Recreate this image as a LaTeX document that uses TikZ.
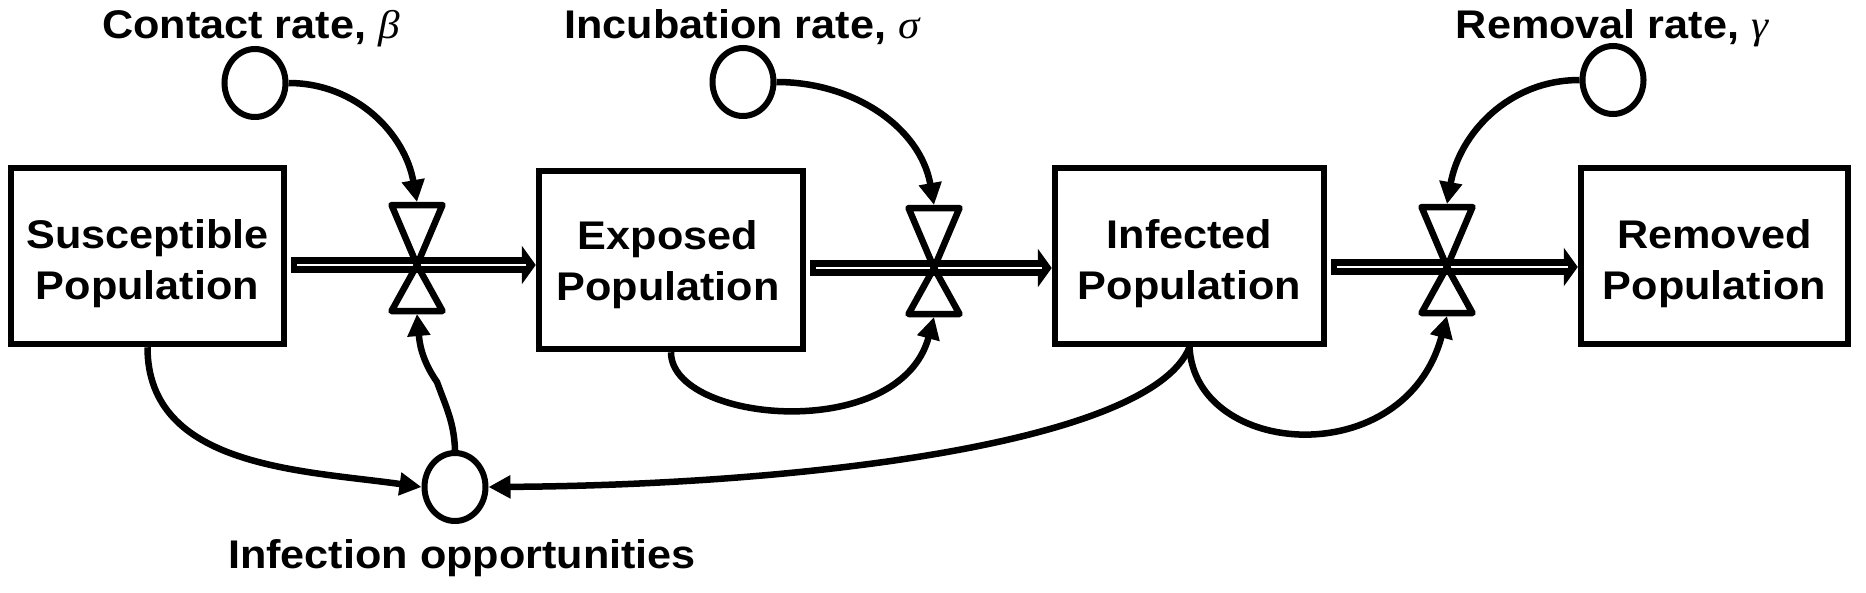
\documentclass[tikz,border=0pt]{standalone}
\usepackage{fontspec}
\usepackage{graphicx}
\setmainfont{Liberation Sans}
\newfontfamily\gkfont{Liberation Serif}
\usetikzlibrary{arrows.meta,calc,shapes.geometric}
\newcommand{\wx}[1]{\scalebox{1.08}[1]{#1}}
\newcommand{\gk}[1]{{\gkfont\itshape\mdseries #1}}

\begin{document}
\begin{tikzpicture}[x=1pt,y=1pt,
  box/.style={draw, line width=6.5pt, rectangle, inner sep=0pt},
  boxtext/.style={inner sep=0pt, align=center, font=\fontsize{40}{51}\selectfont\bfseries},
  aux/.style={draw, line width=6pt, ellipse, minimum width=61pt, minimum height=68pt, inner sep=0pt},
  lbl/.style={font=\fontsize{40}{48}\selectfont\bfseries, inner sep=0pt, anchor=base},
  link/.style={line width=6.5pt, -{Triangle[length=22pt,width=22pt]}},
  valvestyle/.style={line width=6.5pt, line join=round},
  flowline/.style={line width=16pt, -{Triangle[length=14pt,width=38pt]}},
  flowgap/.style={line width=2.5pt, white},
]
\useasboundingbox (0,0) rectangle (1866,-592);

% stocks
\node[box, minimum width=273pt, minimum height=176pt] (S) at (147.5,-256) {};
\node[box, minimum width=264pt, minimum height=178pt] (E) at (671,-260) {};
\node[box, minimum width=269pt, minimum height=176pt] (I) at (1189.5,-256) {};
\node[box, minimum width=267pt, minimum height=176pt] (R) at (1714.5,-256) {};
\node[boxtext] (St) at ($(S.center)+(0,-8)$) {\wx{Susceptible}\\\wx{Population}};
\node[boxtext] (Et) at ($(E.center)+(-3,-5)$) {\wx{Exposed}\\\wx{Population}};
\node[boxtext] (It) at ($(I.center)+(0,-8)$) {\wx{Infected}\\\wx{Population}};
\node[boxtext] (Rt) at ($(R.center)+(0,-8)$) {\wx{Removed}\\\wx{Population}};

% auxiliaries
\node[aux] (beta) at (255,-83) {};
\node[aux] (sigma) at (743,-82) {};
\node[aux] (gamma) at (1613,-80) {};
\node[aux] (io) at (455,-487) {};

% labels
\node[lbl] (tbeta) at (251,-38) {\wx{Contact rate, \gk{β}}};
\node[lbl] (tsigma) at (742,-38) {\wx{Incubation rate, \gk{σ}}};
\node[lbl] (tgamma) at (1612,-38) {\wx{Removal rate, \gk{γ}}};
\node[lbl] (tio) at (462,-568) {\wx{Infection opportunities}};

% valve centres
\coordinate (v1) at (417,-265);
\coordinate (v2) at (934,-268);
\coordinate (v3) at (1447,-267);
\foreach \v in {v1,v2,v3}{
  \coordinate (\v t) at ($(\v)+(0,63)$);
  \coordinate (\v b) at ($(\v)+(0,-49)$);
}

% flows
\draw[flowline] ($(v1 -| S.east)+(4,0)$) -- (v1 -| E.west);
\draw[flowgap] ($(v1 -| S.east)+(10,0)$) -- ($(v1 -| E.west)+(-10,0)$);
\draw[flowline] ($(v2 -| E.east)+(4,0)$) -- (v2 -| I.west);
\draw[flowgap] ($(v2 -| E.east)+(10,0)$) -- ($(v2 -| I.west)+(-10,0)$);
\draw[flowline] ($(v3 -| I.east)+(4,0)$) -- (v3 -| R.west);
\draw[flowgap] ($(v3 -| I.east)+(10,0)$) -- ($(v3 -| R.west)+(-10,0)$);

% valves
\foreach \v in {v1,v2,v3}{
  \draw[valvestyle] ($(\v)+(-25.5,60)$) -- ($(\v)+(25.5,60)$) -- (\v) -- cycle;
  \draw[valvestyle] (\v) -- ($(\v)+(-25.5,-46)$) -- ($(\v)+(25.5,-46)$) -- cycle;
}

% links
\coordinate (k1) at (437,-382);
\draw[link] (beta.east) to[out=0,in=100] (v1t);
\draw[link] (sigma.east) to[out=0,in=100] (v2t);
\draw[link] (gamma.west) to[out=180,in=80] (v3t);
\draw[link] (S.south) to[out=-90,in=172] (io.west);
\draw[link] (io.north) to[out=92,in=-70] (k1) to[out=125,in=-85] (v1b);
\draw[link] (E.south) .. controls +(0,-71) and +(-34,-127) .. (v2b);
\draw[link] (I.south) .. controls +(-39,-96) and +(315,2) .. (io.east);
\draw[link] (I.south) .. controls +(6,-111) and +(-42,-157) .. (v3b);
\end{tikzpicture}
\end{document}
